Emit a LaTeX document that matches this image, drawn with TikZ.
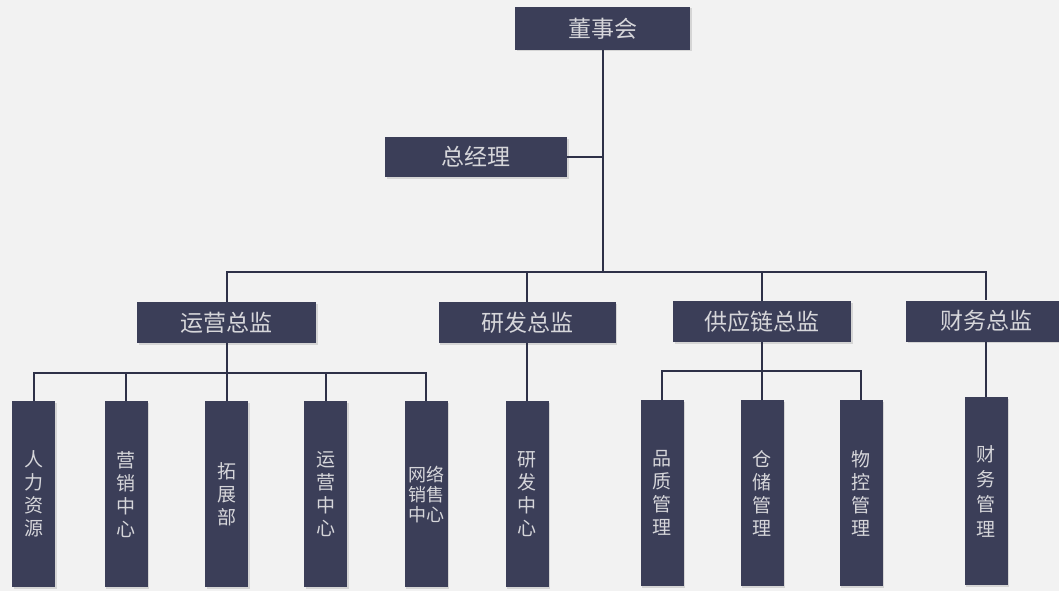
\documentclass[tikz,border=0pt]{standalone}
\usepackage{fontspec}
\setmainfont{Noto Sans CJK SC}
\usetikzlibrary{shadows}
\definecolor{boxfill}{HTML}{3B3E58}
\definecolor{boxtext}{HTML}{D6D6DA}
\definecolor{linecol}{HTML}{2E3148}
\definecolor{bgcol}{HTML}{F2F2F2}
\tikzset{
  hbox/.style={fill=boxfill, text=boxtext, inner sep=0pt, minimum height=41pt,
    font=\fontsize{23}{26}\selectfont, drop shadow={opacity=0.25, shadow xshift=1.5pt, shadow yshift=-1.5pt}},
  vbox/.style={fill=boxfill, text=boxtext, inner sep=0pt, minimum width=43pt, minimum height=186pt,
    anchor=north, align=center, font=\fontsize{19}{23}\selectfont,
    drop shadow={opacity=0.25, shadow xshift=1.5pt, shadow yshift=-1.5pt}},
  conn/.style={draw=linecol, line width=2pt},
}
\begin{document}
\begin{tikzpicture}[x=1pt,y=-1pt]
\fill[bgcol] (0,0) rectangle (1059,591);
\useasboundingbox (0,0) rectangle (1059,591);
% top
\node[hbox, minimum width=175pt, minimum height=43pt] (board) at (602.5,28.5) {董事会};
\node[hbox, minimum width=182pt, minimum height=40pt] (gm) at (476,157) {总经理};
% level 2
\node[hbox, minimum width=179pt] (ops) at (226.5,322.5) {运营总监};
\node[hbox, minimum width=177pt] (rd) at (527,322.5) {研发总监};
\node[hbox, minimum width=178pt] (sc) at (762,321.5) {供应链总监};
\node[hbox, minimum width=160pt] (fin) at (986,321) {财务总监};
% level 3
\node[vbox] (hr) at (33.5,401) {人\\力\\资\\源};
\node[vbox] (mkt) at (126,401) {营\\销\\中\\心};
\node[vbox] (exp) at (226.5,401) {拓\\展\\部};
\node[vbox] (opc) at (325.5,401) {运\\营\\中\\心};
\node[vbox, font=\fontsize{18}{20}\selectfont] (net) at (426,401) {网络\\销售\\中心};
\node[vbox] (rdc) at (527,401) {研\\发\\中\\心};
\node[vbox] (qa) at (662,400) {品\\质\\管\\理};
\node[vbox] (wh) at (762,400) {仓\\储\\管\\理};
\node[vbox] (lc) at (861,400) {物\\控\\管\\理};
\node[vbox, minimum height=188pt, font=\fontsize{19}{25}\selectfont] (fm) at (986,397) {财\\务\\管\\理};
% connectors
\coordinate (j1) at (602.5,157);
\coordinate (j2) at (602.5,272);
\draw[conn] (board.south) -- (j2);
\draw[conn] (gm.east) -- (j1);
\draw[conn] (ops.north) |- (j2) -| (fin.north);
\draw[conn] (rd.north) -- (rd.north |- j2);
\draw[conn] (sc.north) -- (sc.north |- j2);
\coordinate (b1) at (226.5,373);
\draw[conn] (ops.south) -- (b1);
\draw[conn] (hr.north) |- (b1) -| (net.north);
\draw[conn] (mkt.north) -- (mkt.north |- b1);
\draw[conn] (exp.north) -- (b1);
\draw[conn] (opc.north) -- (opc.north |- b1);
\draw[conn] (rd.south) -- (rdc.north);
\coordinate (b2) at (762,371);
\draw[conn] (sc.south) -- (b2);
\draw[conn] (qa.north) |- (b2) -| (lc.north);
\draw[conn] (wh.north) -- (b2);
\draw[conn] (fin.south) -- (fm.north);
\end{tikzpicture}
\end{document}
